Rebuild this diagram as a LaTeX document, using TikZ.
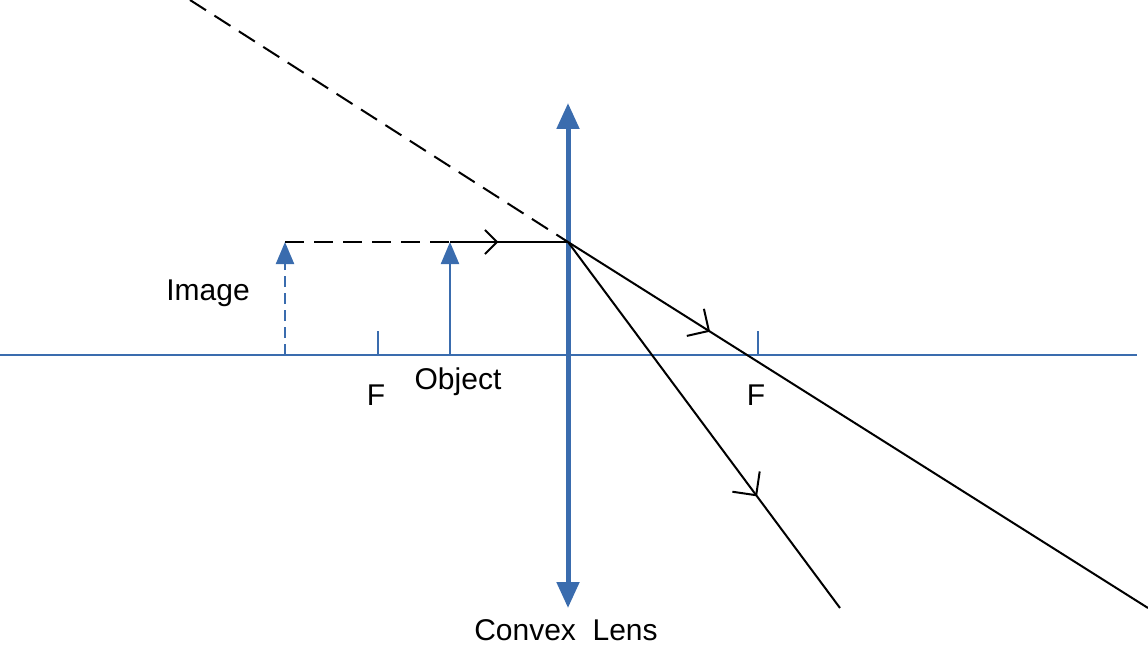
\documentclass[tikz,border=0pt]{standalone}
\usepackage{fontspec}
\setmainfont{Liberation Sans}
\usetikzlibrary{arrows.meta,positioning,decorations.markings}

\definecolor{lensblue}{RGB}{58,108,174}

\tikzset{
  axisline/.style={lensblue, line width=2pt},
  arrowline/.style={lensblue, line width=2.2pt, -{Triangle[width=18pt,length=22pt]}},
  lensline/.style={lensblue, line width=5pt, {Triangle[width=22pt,length=26pt]}-{Triangle[width=22pt,length=26pt]}},
  ray/.style={black, line width=2pt},
  raymark/.style 2 args={postaction={decorate, decoration={markings,
      mark=at position #1 with {\arrow{Straight Barb[length=#2,width=2*#2,line width=2pt]}}}}},
  label/.style={font=\fontsize{30}{36}\selectfont, inner sep=0pt}
}

\begin{document}
\begin{tikzpicture}[x=1pt,y=-1pt]
  \useasboundingbox (0,0) rectangle (1148,647);

  % points
  \coordinate (axisL) at (0,355);
  \coordinate (axisR) at (1137,355);
  \coordinate (lensT) at (568,103);
  \coordinate (lensB) at (568,608);
  \coordinate (lensC) at (568,242);
  \coordinate (objB) at (450,355);
  \coordinate (objT) at (450,242);
  \coordinate (imgB) at (285,355);
  \coordinate (imgT) at (285,242);
  \coordinate (f1) at (378,355);
  \coordinate (f2) at (758,355);
  \coordinate (virt) at (190,0);
  \coordinate (rayA) at (1148,608);
  \coordinate (rayB) at (840,608);

  % optical axis and focal ticks
  \draw[axisline] (axisL) -- (axisR);
  \draw[axisline] (f1) -- ++(0,-24);
  \draw[axisline] (f2) -- ++(0,-24);

  % lens
  \draw[lensline] (lensB) -- (lensT);

  % object and image
  \draw[arrowline] (objB) -- (objT);
  \draw[arrowline, dash pattern=on 11pt off 6pt] (imgB) -- (imgT);

  % rays
  \draw[ray, dash pattern=on 19pt off 10pt] (imgT) -- (objT);
  \draw[ray, raymark={0.41}{12pt}] (objT) -- (lensC);
  \draw[ray, raymark={0.245}{16pt}] (lensC) -- (rayA);
  \draw[ray, raymark={0.695}{17pt}] (lensC) -- (rayB);
  \draw[ray, dash pattern=on 19pt off 10pt] (virt) -- (lensC);

  % labels
  \node[label] (lblImage) at (208,293) {Image};
  \node[label] (lblObject) at (458,382) {Object};
  \node[label] (lblF1) at (376,395) {F};
  \node[label] (lblF2) at (756,395) {F};
  \node[label] (lblLens) at (566,630) {Convex\ \ Lens};
\end{tikzpicture}
\end{document}
